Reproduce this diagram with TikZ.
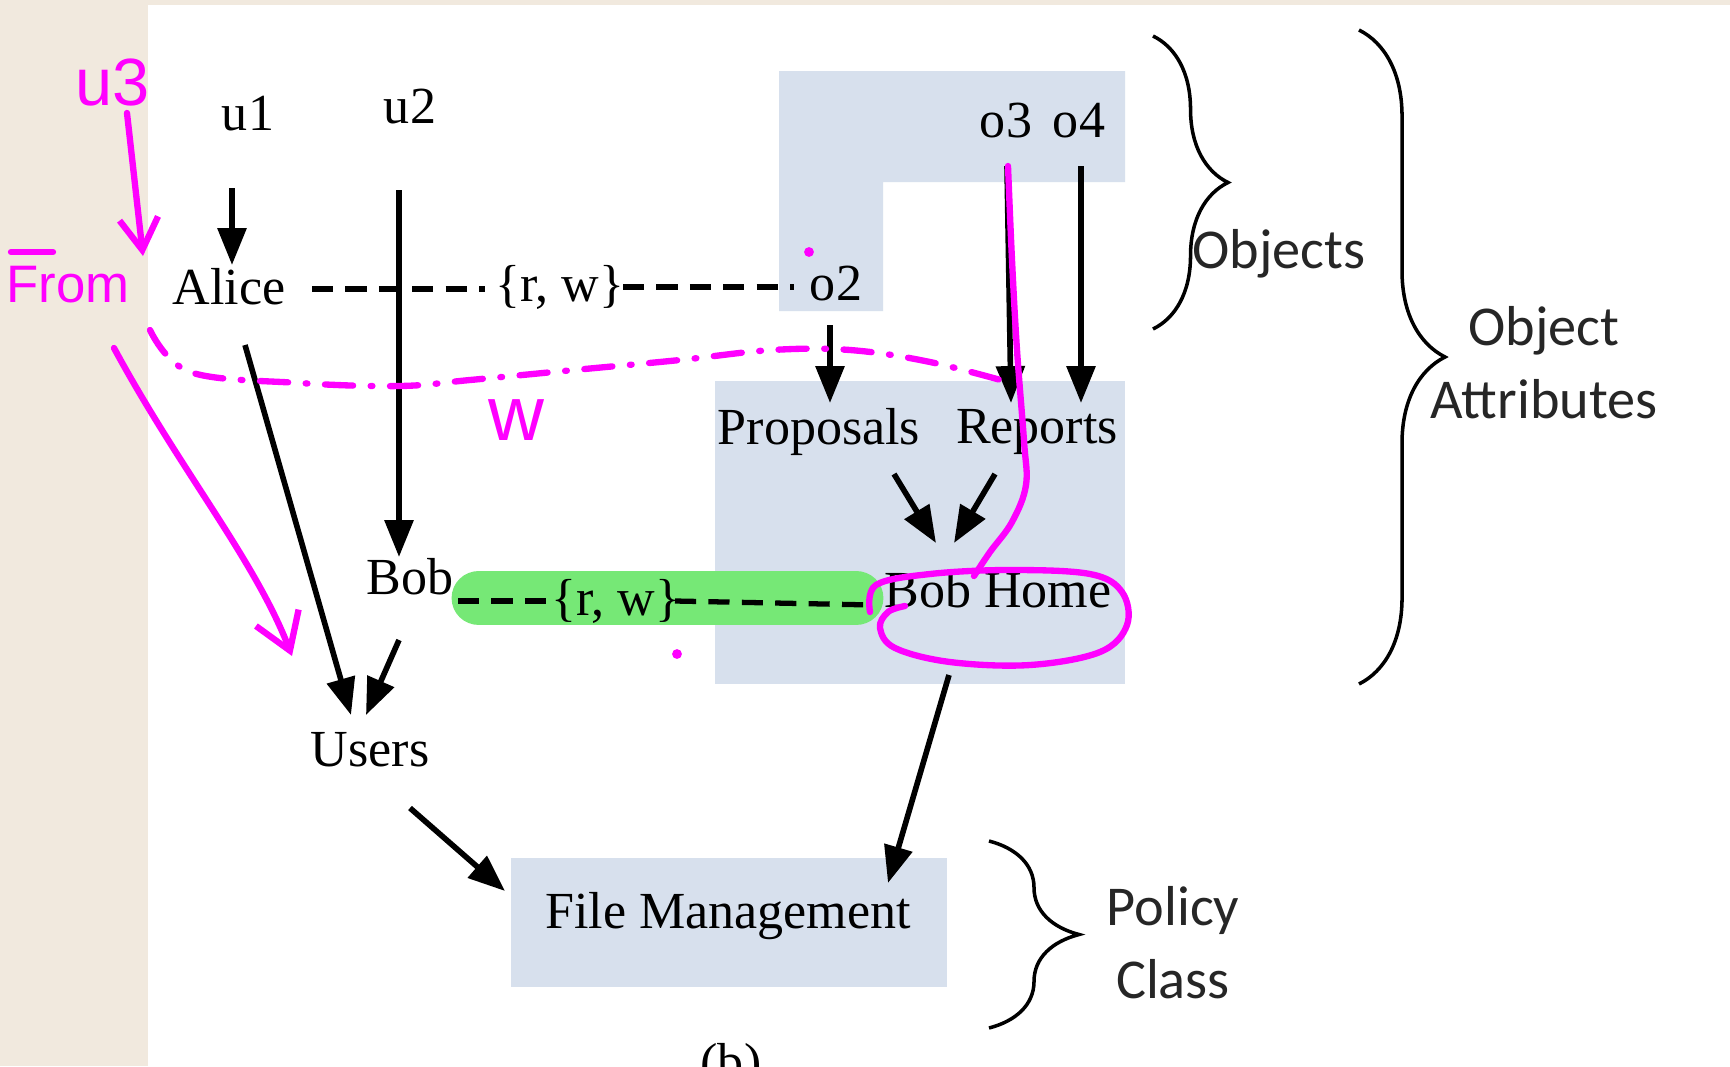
\documentclass[tikz,border=0pt]{standalone}
\usepackage{fontspec}
\setmainfont{Liberation Serif}
\newfontfamily\calib{Carlito}
\newfontfamily\hand{Liberation Sans}
\usepackage{xcolor}
\usetikzlibrary{arrows.meta,calc,decorations.pathreplacing}
\definecolor{paleblue}{RGB}{215,224,237}
\definecolor{beige}{RGB}{241,233,222}
\definecolor{pen}{RGB}{255,0,255}
\definecolor{marker}{RGB}{118,232,118}

\begin{document}
\begin{tikzpicture}[x=0.01cm,y=-0.01cm,
  n/.style={inner sep=0pt,font=\fontsize{14.8}{17}\selectfont},
  lbl/.style={inner sep=0pt,align=center,text=black!85,font=\calib\fontsize{16}{20.7}\selectfont},
  arr/.style={line width=1.6pt,-{Triangle[length=10.5pt,width=8pt]}},
  dsh/.style={line width=1.5pt,dash pattern=on 6pt off 3.5pt},
  brc/.style={line width=1pt,decorate,decoration={brace,amplitude=#1}},
  ink/.style={pen,line width=1.8pt,line cap=round,line join=round},
  inktext/.style={pen,inner sep=0pt,font=\hand\fontsize{#1}{#1}\selectfont}]
 \useasboundingbox (0,0) rectangle (1730,1066);
 \fill[white] (0,0) rectangle (1730,1066);
 \fill[beige] (0,0) rectangle (148,1066);
 \fill[beige] (0,0) rectangle (1730,5);
 % shaded groups
 \fill[paleblue] (779,71) -- (1125,71) -- (1125,182) -- (883,182) -- (883,311) -- (779,311) -- cycle;
 \fill[paleblue] (715,381) rectangle (1125,684);
 \fill[paleblue] (511,858) rectangle (947,987);
 \draw[marker,line width=15.6pt,line cap=round] (479,598) -- (856,598);
 % users side
 \node[n] (u1) at (248,114) {u1};
 \node[n] (u2) at (410,107) {u2};
 \node[n] (Alice) at (229,287) {Alice};
 \node[n] (Bob) at (410,577) {Bob};
 \node[n] (Users) at (370,750) {Users};
 % objects side
 \node[n] (o2) at (836,284) {o2};
 \node[n] (o3) at (1006,121) {o3};
 \node[n] (o4) at (1079,121) {o4};
 \node[n] (Prop) at (819,432) {Proposals};
 \node[n] (Rep) at (1037,432) {Reports};
 \node[n] (BH) at (998,590) {Bob Home};
 \node[n] (FM) at (728,916) {File Management};
 % associations
 \node[n] (rwA) at (560,287) {\{r, w\}};
 \node[n] (rwB) at (616,601) {\{r, w\}};
 \node[n,anchor=base] (capb) at (731,1079) {(b)};
 \foreach \a/\ax/\ay/\b/\bx/\by in {u1/-16/74/Alice/3/-22, u2/-11/83/Bob/-11/-20,
   Alice/16/58/Users/-19/-35, Bob/-11/63/Users/-4/-35, Users/40/58/FM/-223/-25,
   o2/-6/41/Prop/11/-29, o3/1/45/Rep/-26/-29, o4/2/45/Rep/44/-29,
   Prop/75/42/BH/-62/-47, Rep/-42/42/BH/-44/-47, BH/-49/85/FM/160/-33}
   \draw[arr] ($(\a)+(\ax,\ay)$) -- ($(\b)+(\bx,\by)$);
 \foreach \a/\ax/\ay/\b/\bx/\by in {Alice/83/2/rwA/-75/2, rwA/63/0/o2/-42/3,
   Bob/48/24/rwB/-64/0, rwB/59/0/BH/-124/15}
   \draw[dsh] ($(\a)+(\ax,\ay)$) -- ($(\b)+(\bx,\by)$);
 % braces
 \draw[brc=0.75cm] (1153,36) -- (1153,329);
 \draw[brc=0.86cm] (1359,30) -- (1359,684);
 \draw[brc=0.9cm] (989,841) -- (989,1028);
 \node[lbl] (objlbl) at (1279,254) {Objects};
 \node[lbl] (attrlbl) at (1544,363) {Object\\Attributes};
 \node[lbl] (pollbl) at (1173,943) {Policy\\Class};
 % pen notes
 \node[inktext=19] (u3) at (113,82) {u3};
 \node[inktext=15] (from) at (68,285) {From};
 \node[inktext=22] (w) at (516,420) {w};
 \draw[ink] (11,252) -- (53,252);
 \draw[ink,-{Straight Barb[length=9pt,width=11pt]}] ($(u3)+(14,31)$) -- ($(from)+(75,-29)$);
 \draw[ink,-{Straight Barb[length=10pt,width=13pt]}] ($(from)+(46,63)$)
   .. controls (180,470) and (255,560) .. ($(Users)+(-78,-94)$);
 \draw[ink,dash pattern=on 8pt off 5pt on 0.5pt off 5pt]
   plot[smooth,tension=0.6] coordinates {(150,330) (190,372) (300,383) (400,386) (470,380)
   (574,370) (680,360) (772,350) (850,350) (930,362) (1015,384)};
 \draw[ink] plot[smooth,tension=0.6] coordinates {($(o3)+(2,45)$) (1012,260) (1017,350)
   (1024,441) (1026,485) (1012,522) (990,552) (974,576)};
 \draw[ink] plot[smooth,tension=0.6] coordinates {(870,612) (876,585) (930,574) (1010,570)
   (1090,574) (1122,592) (1127,625) (1100,652) (1030,665) (950,662) (895,648) (880,628)
   (888,612) (905,606)};
 \fill[pen] (809,252) circle (1.4pt);
 \fill[pen] (677,654) circle (1.4pt);
\end{tikzpicture}
\end{document}
